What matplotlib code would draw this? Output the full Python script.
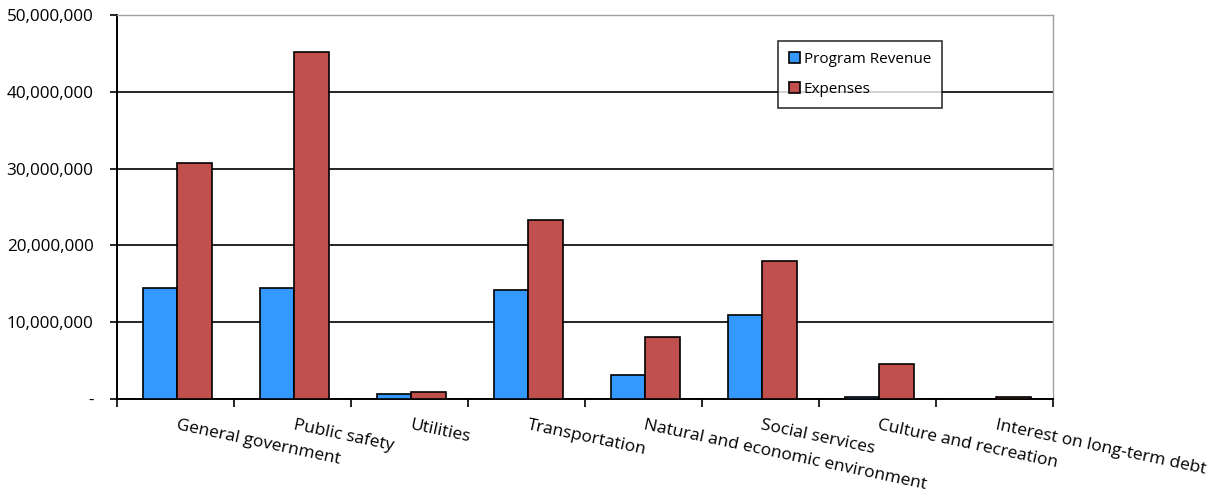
import numpy as np
import matplotlib
matplotlib.use("Agg")
import matplotlib.pyplot as plt
from matplotlib.ticker import FuncFormatter, MultipleLocator

plt.rcParams["font.family"] = ["Open Sans", "DejaVu Sans"]

categories = [
    "General government",
    "Public safety",
    "Utilities",
    "Transportation",
    "Natural and economic environment",
    "Social services",
    "Culture and recreation",
    "Interest on long-term debt",
]
program_revenue = [14_450_000, 14_450_000, 690_000, 14_200_000, 3_100_000, 10_900_000, 200_000, 0]
expenses = [30_700_000, 45_200_000, 870_000, 23_300_000, 8_070_000, 18_000_000, 4_560_000, 200_000]

BLUE = "#3399FF"
RED = "#C0504D"


def fmt(v, _pos):
    return "-" if v == 0 else f"{v:,.0f}"


fig = plt.figure(figsize=(12.13, 4.94), dpi=100)
ax = fig.add_axes([117 / 1213, 1 - 399 / 494, 936 / 1213, 384 / 494])

x = np.arange(len(categories)) + 0.015
w = 0.295
ax.bar(x - w / 2, program_revenue, w, color=BLUE, edgecolor="black", linewidth=1.2,
       label="Program Revenue", zorder=3)
ax.bar(x + w / 2, expenses, w, color=RED, edgecolor="black", linewidth=1.2,
       label="Expenses", zorder=3)

ax.set_xlim(-0.5, len(categories) - 0.5)
ax.set_ylim(0, 50_000_000)
ax.yaxis.set_major_locator(MultipleLocator(10_000_000))
ax.yaxis.set_major_formatter(FuncFormatter(fmt))
ax.tick_params(axis="y", labelsize=12.3, length=5, width=1.2, pad=12)
ax.grid(axis="y", color="black", linewidth=1.2, zorder=0)

# category boundary ticks on the x axis
ax.set_xticks(np.arange(len(categories) + 1) - 0.5)
ax.set_xticklabels([])
ax.tick_params(axis="x", length=6, width=1.2, direction="out")
for i, name in enumerate(categories):
    ax.text(i + 0.02, -2_400_000, name, rotation=-12, rotation_mode="anchor",
            ha="left", va="top", fontsize=12.5, clip_on=False)

for side in ("top", "right"):
    ax.spines[side].set_color("#A0A0A0")
    ax.spines[side].set_linewidth(1.0)
for side in ("left", "bottom"):
    ax.spines[side].set_color("black")
    ax.spines[side].set_linewidth(1.4)

leg = ax.legend(loc="upper left", bbox_to_anchor=((778 - 117) / 936, 1 - (41 - 15) / 384),
                frameon=True, fancybox=False, fontsize=11, handlelength=0.75,
                handleheight=0.75, handletextpad=0.25, labelspacing=1.0,
                borderpad=0.7, borderaxespad=0)
leg.get_frame().set_edgecolor("black")
leg.get_frame().set_linewidth(1.2)
leg.set_zorder(5)

fig.savefig("out.png", dpi=100)
